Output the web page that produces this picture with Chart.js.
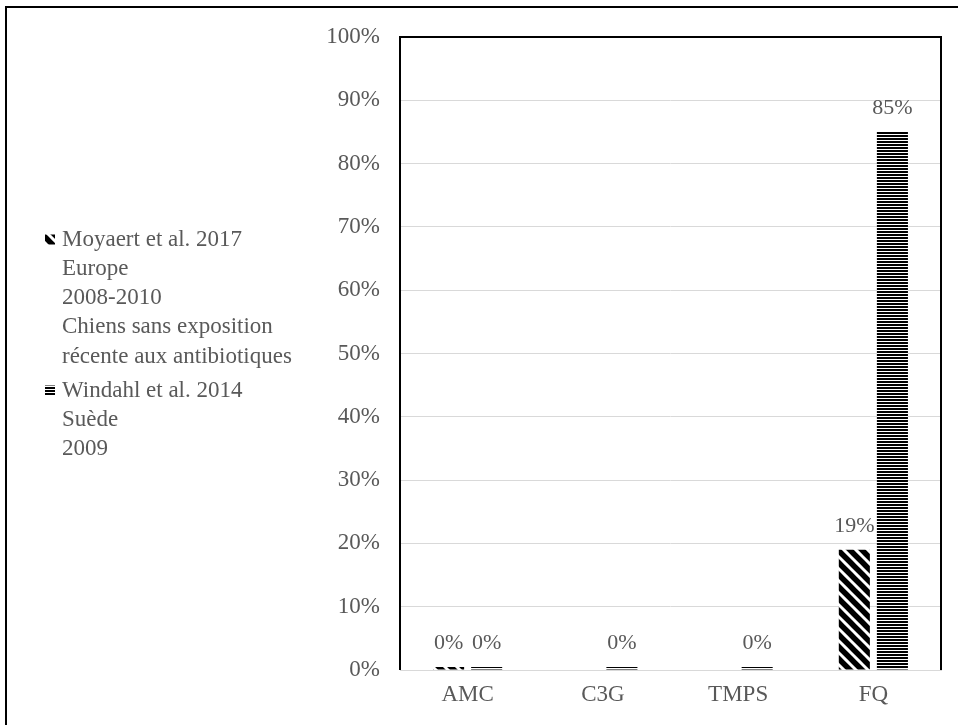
<!DOCTYPE html>
<html>
<head>
<meta charset="utf-8">
<script src="https://cdn.jsdelivr.net/npm/chart.js@4"></script>
<style>
html,body{margin:0;padding:0;background:#fff;}
#wrap{position:relative;width:958px;height:725px;}
canvas{display:block;}
</style>
</head>
<body>
<div id="wrap"><canvas id="c" width="958" height="725"></canvas></div>
<script>
const categories = ["AMC", "C3G", "TMPS", "FQ"];
const moyaertValues = [0, null, null, 19];
const windahlValues = [0, 0, 0, 85];
const moyaertLegend = ["Moyaert et al. 2017", "Europe", "2008-2010", "Chiens sans exposition", "récente aux antibiotiques"];
const windahlLegend = ["Windahl et al. 2014", "Suède", "2009"];
const yTicks = [0, 10, 20, 30, 40, 50, 60, 70, 80, 90, 100];

const FONT = "'Liberation Serif', 'Times New Roman', serif";
const GRAY = "#595959";
const FS = 23;
const FS_LABEL = 22;

const ctx = document.getElementById('c').getContext('2d');

function diagPattern() {
  const s = 12;
  const c = document.createElement('canvas'); c.width = s; c.height = s;
  const x = c.getContext('2d');
  x.fillStyle = '#fff'; x.fillRect(0, 0, s, s);
  x.strokeStyle = '#000'; x.lineWidth = 5.5;
  x.beginPath();
  for (let k = -1; k <= 1; k++) {
    x.moveTo(k * s - 2, -2); x.lineTo(k * s + s + 2, s + 2);
  }
  x.stroke();
  return ctx.createPattern(c, 'repeat');
}
function horizPattern() {
  const c = document.createElement('canvas'); c.width = 4; c.height = 3;
  const x = c.getContext('2d');
  x.fillStyle = '#fff'; x.fillRect(0, 0, 4, 3);
  x.fillStyle = '#000'; x.fillRect(0, 0, 4, 2);
  return ctx.createPattern(c, 'repeat');
}
const pDiag = diagPattern();
const pHoriz = horizPattern();

const decorations = {
  id: 'decorations',
  afterDatasetsDraw(chart) {
    const c = chart.ctx, a = chart.chartArea;
    c.save();
    // value labels
    c.font = FS_LABEL + "px " + FONT;
    c.fillStyle = GRAY;
    c.textAlign = 'center';
    c.textBaseline = 'middle';
    chart.data.datasets.forEach((ds, di) => {
      const meta = chart.getDatasetMeta(di);
      meta.data.forEach((el, i) => {
        const v = ds.data[i];
        if (v === null || v === undefined) return;
        c.fillText(Math.round(v) + '%', el.x, el.y - 23.5);
      });
    });
    // plot border (left, top, right)
    c.strokeStyle = '#000';
    c.lineWidth = 2;
    c.beginPath();
    c.moveTo(a.left, a.bottom);
    c.lineTo(a.left, a.top);
    c.lineTo(a.right, a.top);
    c.lineTo(a.right, a.bottom);
    c.stroke();
    // outer frame
    c.lineWidth = 2;
    c.beginPath();
    c.moveTo(6, chart.height);
    c.lineTo(6, 7);
    c.lineTo(chart.width, 7);
    c.stroke();
    // legend
    c.textAlign = 'left';
    c.font = FS + "px " + FONT;
    const lx = 62, lh = 29.3;
    const groups = [
      { lines: moyaertLegend, y: 239.5, pat: pDiag },
      { lines: windahlLegend, y: 390.5, pat: pHoriz }
    ];
    groups.forEach(g => {
      c.fillStyle = g.pat;
      c.fillRect(45, g.y - 5, 10, 10);
      c.fillStyle = GRAY;
      g.lines.forEach((t, k) => c.fillText(t, lx, g.y + k * lh));
    });
    c.restore();
  }
};

new Chart(ctx, {
  type: 'bar',
  data: {
    labels: categories,
    datasets: [
      { label: moyaertLegend.join(' '), data: moyaertValues, backgroundColor: pDiag, borderWidth: 0, minBarLength: 3,
        categoryPercentage: 0.563, barPercentage: 0.816 },
      { label: windahlLegend.join(' '), data: windahlValues, backgroundColor: pHoriz, borderWidth: 0, minBarLength: 3,
        categoryPercentage: 0.563, barPercentage: 0.816 }
    ]
  },
  options: {
    responsive: false,
    animation: false,
    devicePixelRatio: 1,
    layout: { padding: { left: 300, right: 17, top: 37, bottom: 0 } },
    plugins: { legend: { display: false }, tooltip: { enabled: false } },
    scales: {
      x: {
        grid: { display: false, drawTicks: false },
        border: { display: true, color: '#d9d9d9', width: 1 },
        ticks: { color: GRAY, font: { family: FONT, size: FS }, padding: 11 },
        afterFit(s) { s.height = 55; }
      },
      y: {
        min: 0, max: 100,
        afterBuildTicks(s) { s.ticks = yTicks.map(v => ({ value: v })); },
        grid: { color: '#d9d9d9', lineWidth: 1, drawTicks: false },
        border: { display: false },
        ticks: { color: GRAY, font: { family: FONT, size: FS }, padding: 20, callback: v => v + '%' },
        afterFit(s) { s.width = 100; }
      }
    }
  },
  plugins: [decorations]
});
</script>
</body>
</html>
